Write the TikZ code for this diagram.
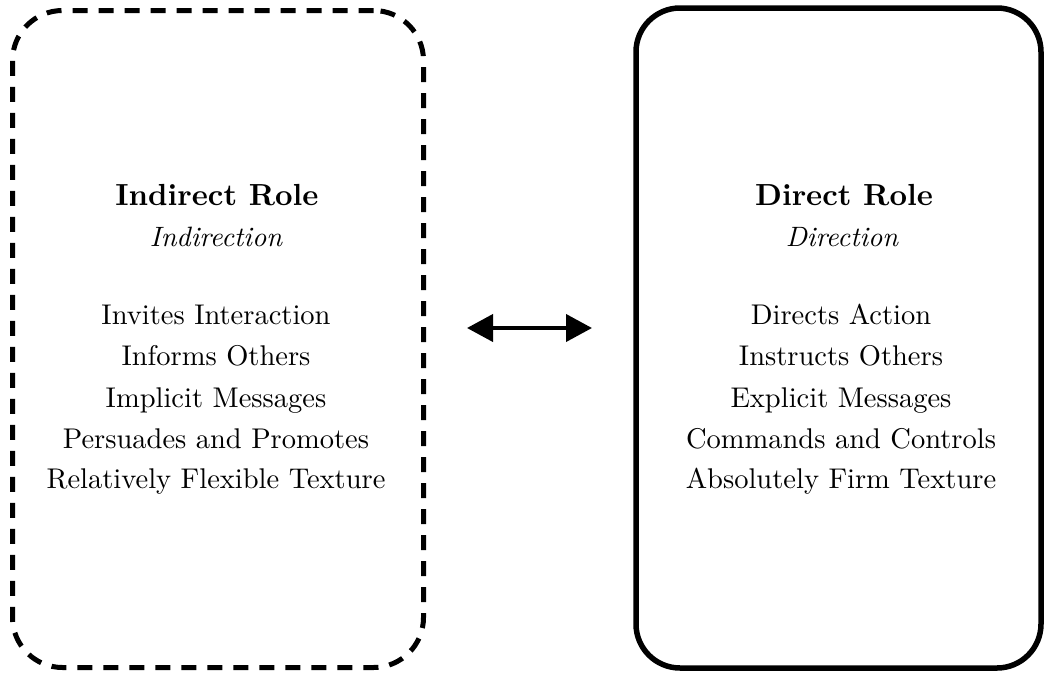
\documentclass[tikz,border=0pt]{standalone}
\usetikzlibrary{arrows.meta}
\font\itemfnt="[lmroman10-regular]:mapping=tex-text" at 28.5pt
\font\headfnt="[lmroman10-bold]:mapping=tex-text" at 30.5pt
\font\subfnt="[lmroman10-italic]:mapping=tex-text" at 28pt
\tikzset{
  dashbox/.style={draw, line width=5pt, dash pattern=on 15pt off 11pt, rounded corners=50pt, inner sep=0pt, outer sep=0pt},
  solidbox/.style={draw, line width=5.5pt, rounded corners=44pt, inner sep=0pt, outer sep=0pt},
  headtxt/.style={anchor=base, inner sep=0pt, font=\headfnt},
  subtxt/.style={anchor=base, inner sep=0pt, font=\subfnt},
  itemtxt/.style={anchor=base, inner sep=0pt, font=\itemfnt},
  link/.style={{Triangle[length=26pt,width=27pt]}-{Triangle[length=26pt,width=27pt]}, line width=4pt}
}
\begin{document}
\begin{tikzpicture}[x=1pt,y=-1pt]
\useasboundingbox (0,0) rectangle (1044,672);
% boxes
\node[dashbox, minimum width=411pt, minimum height=657pt] (L) at (218,339) {};
\node[solidbox, minimum width=405pt, minimum height=660pt] (R) at (838.5,338) {};
% left texts
\node[headtxt] (lh) at (217,205) {Indirect Role};
\node[subtxt] (ls) at (216,246) {Indirection};
\node[itemtxt] (l1) at (216,324) {Invites Interaction};
\node[itemtxt] (l2) at (216,365) {Informs Others};
\node[itemtxt] (l3) at (216,407) {Implicit Messages};
\node[itemtxt] (l4) at (216,448) {Persuades and Promotes};
\node[itemtxt] (l5) at (216,488) {Relatively Flexible Texture};
% right texts
\node[headtxt] (rh) at (844,205) {Direct Role};
\node[subtxt] (rs) at (842,246) {Direction};
\node[itemtxt] (r1) at (841,324) {Directs Action};
\node[itemtxt] (r2) at (841,365) {Instructs Others};
\node[itemtxt] (r3) at (841,407) {Explicit Messages};
\node[itemtxt] (r4) at (841,448) {Commands and Controls};
\node[itemtxt] (r5) at (841,488) {Absolutely Firm Texture};
% connector
\coordinate (mid) at (529.5,328);
\draw[link, shorten <=43.5pt, shorten >=44pt] (L.east |- mid) -- (R.west |- mid);
\end{tikzpicture}
\end{document}
